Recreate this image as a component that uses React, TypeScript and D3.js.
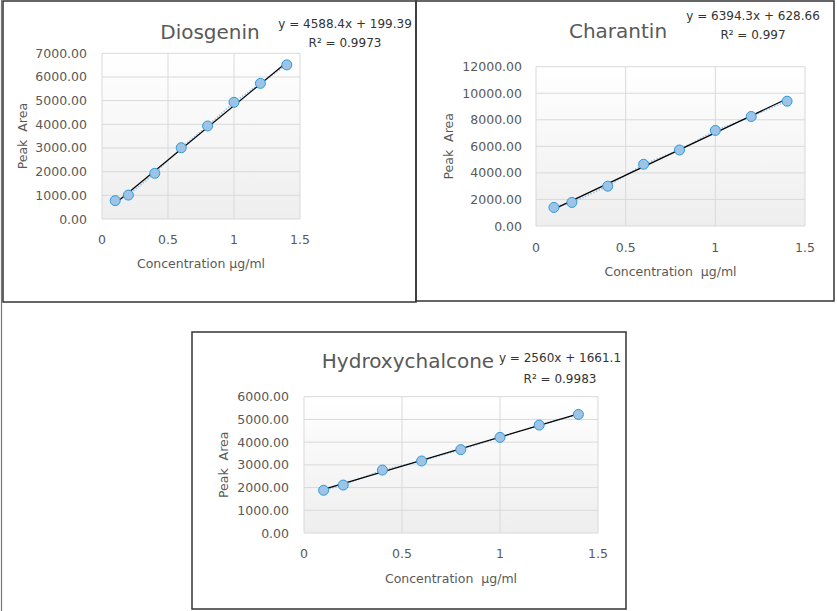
import * as React from 'react';
import * as d3 from 'd3';

// concentration µg/ml (shared by the three calibration curves)
const concentration = [0.1, 0.2, 0.4, 0.6, 0.8, 1.0, 1.2, 1.4];

// peak areas
const diosgeninArea = [775, 1010, 1930, 3010, 3930, 4930, 5730, 6510];
const charantinArea = [1400, 1775, 3000, 4650, 5725, 7200, 8250, 9400];
const hydroxychalconeArea = [1880, 2110, 2770, 3170, 3670, 4210, 4750, 5220];

const xTicks = [0, 0.5, 1, 1.5];
const diosgeninTicks = [0, 1000, 2000, 3000, 4000, 5000, 6000, 7000];
const charantinTicks = [0, 2000, 4000, 6000, 8000, 10000, 12000];
const hydroxychalconeTicks = [0, 1000, 2000, 3000, 4000, 5000, 6000];

// trendline coefficients as printed on the charts
const slopes = [4588.4, 6394.3, 2560];
const intercepts = [199.39, 628.66, 1661.1];
const eqLabels = ['y = 4588.4x + 199.39', 'y = 6394.3x + 628.66', 'y = 2560x + 1661.1'];
const r2Labels = ['R² = 0.9973', 'R² = 0.997', 'R² = 0.9983'];
const titles = ['Diosgenin', 'Charantin', 'Hydroxychalcone'];
const xTitles = ['Concentration µg/ml', 'Concentration  µg/ml', 'Concentration  µg/ml'];

const FONT = '"DejaVu Sans", sans-serif';
const GREY = '#595959';

type Layout = {
  box: [number, number, number, number]; // x0, y0, x1, y1
  plot: [number, number, number, number];
  titleX: number; titleY: number;
  eqX: number; eqY: number; r2Y: number;
  tickRight: number; xTickY: number; xTitleY: number; yTitleX: number;
};

const layouts: Layout[] = [
  { box: [3, 1, 416, 302], plot: [102, 53.3, 300, 219], titleX: 210, titleY: 39, eqX: 345, eqY: 28, r2Y: 47, tickRight: 87, xTickY: 244, xTitleY: 268, yTitleX: 22 },
  { box: [416, 1, 834, 301], plot: [536, 66.7, 805, 226], titleX: 618, titleY: 38, eqX: 753, eqY: 20, r2Y: 39, tickRight: 522, xTickY: 252, xTitleY: 276, yTitleX: 448 },
  { box: [192, 332, 626, 609], plot: [304, 396.7, 598, 533], titleX: 408, titleY: 368, eqX: 560, eqY: 362, r2Y: 383, tickRight: 289, xTickY: 558, xTitleY: 583, yTitleX: 223 },
];

type PanelProps = {
  idx: number;
  values: number[];
  yTicks: number[];
  layout: Layout;
};

const Panel = ({ idx, values, yTicks, layout }: PanelProps) => {
  const [px0, py0, px1, py1] = layout.plot;
  const [bx0, by0, bx1, by1] = layout.box;
  const x = d3.scaleLinear().domain([0, 1.5]).range([px0, px1]);
  const y = d3.scaleLinear().domain([0, d3.max(yTicks) as number]).range([py1, py0]);

  const pts = concentration.map((c, i) => [c, values[i]] as [number, number]);
  const line = d3.line<[number, number]>().x(d => x(d[0])).y(d => y(d[1]));
  const xEnds = d3.extent(concentration) as [number, number];
  const trend = xEnds.map(c => [c, slopes[idx] * c + intercepts[idx]] as [number, number]);
  const gradId = `plotbg${idx}`;

  return (
    <g>
      <defs>
        <linearGradient id={gradId} x1="0" y1="0" x2="0" y2="1">
          <stop offset="0%" stopColor="#ffffff" />
          <stop offset="100%" stopColor="#eeeeee" />
        </linearGradient>
      </defs>
      <rect x={bx0} y={by0} width={bx1 - bx0} height={by1 - by0} fill="none" stroke="#333" strokeWidth={1.5} />
      <rect x={px0} y={py0} width={px1 - px0} height={py1 - py0} fill={`url(#${gradId})`} />
      {yTicks.map(t => (
        <line key={'gy' + t} x1={px0} x2={px1} y1={y(t)} y2={y(t)} stroke="#d9d9d9" strokeWidth={1} />
      ))}
      {xTicks.map(t => (
        <line key={'gx' + t} x1={x(t)} x2={x(t)} y1={py0} y2={py1} stroke="#d9d9d9" strokeWidth={1} />
      ))}
      {yTicks.map(t => (
        <text key={'ty' + t} x={layout.tickRight} y={y(t)} dy="0.36em" textAnchor="end" fontSize={12.5} fill={GREY} fontFamily={FONT}>
          {t.toFixed(2)}
        </text>
      ))}
      {xTicks.map(t => (
        <text key={'tx' + t} x={x(t)} y={layout.xTickY} textAnchor="middle" fontSize={12.5} fill={GREY} fontFamily={FONT}>
          {String(t)}
        </text>
      ))}
      <path d={line(pts) || ''} fill="none" stroke="#9dc3e6" strokeWidth={1.5} strokeDasharray="1.5 1.5" />
      <path d={line(trend) || ''} fill="none" stroke="#000" strokeWidth={1.2} />
      {pts.map((p, i) => (
        <circle key={i} cx={x(p[0])} cy={y(p[1])} r={5} fill="#9dc3e6" stroke="#2e9ad8" strokeWidth={1} />
      ))}
      <text x={layout.titleX} y={layout.titleY} textAnchor="middle" fontSize={20} fill={GREY} fontFamily={FONT}>
        {titles[idx]}
      </text>
      <text x={layout.eqX} y={layout.eqY} textAnchor="middle" fontSize={12} fill="#333" fontFamily={FONT}>
        {eqLabels[idx]}
      </text>
      <text x={layout.eqX} y={layout.r2Y} textAnchor="middle" fontSize={12} fill="#333" fontFamily={FONT}>
        {r2Labels[idx]}
      </text>
      <text x={(px0 + px1) / 2} y={layout.xTitleY} textAnchor="middle" fontSize={12.5} fill={GREY} fontFamily={FONT} style={{ whiteSpace: 'pre' }}>
        {xTitles[idx]}
      </text>
      <text
        transform={`translate(${layout.yTitleX}, ${(py0 + py1) / 2}) rotate(-90)`}
        dy="0.36em"
        textAnchor="middle"
        fontSize={12.5}
        fill={GREY}
        fontFamily={FONT}
        style={{ whiteSpace: 'pre' }}
      >
        {'Peak  Area'}
      </text>
    </g>
  );
};

export default function App() {
  const series = [diosgeninArea, charantinArea, hydroxychalconeArea];
  const ticks = [diosgeninTicks, charantinTicks, hydroxychalconeTicks];
  return (
    <div style={{ position: 'absolute', left: 0, top: 0 }}>
      <svg width={837} height={611} style={{ display: 'block', background: '#fff' }}>
        <line x1={1.5} x2={1.5} y1={0} y2={611} stroke="#777" strokeWidth={1.2} />
        {series.map((values, i) => (
          <Panel key={i} idx={i} values={values} yTicks={ticks[i]} layout={layouts[i]} />
        ))}
      </svg>
    </div>
  );
}
